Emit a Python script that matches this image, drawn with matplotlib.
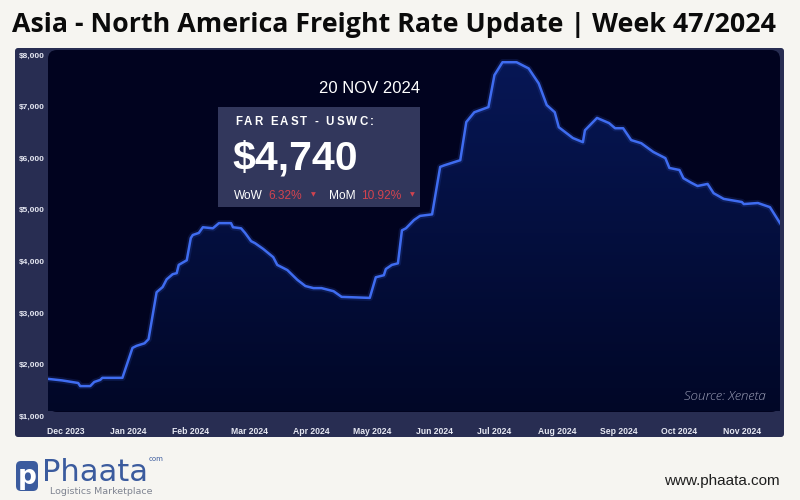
import numpy as np
import pandas as pd
import matplotlib
matplotlib.use("Agg")
import matplotlib.pyplot as plt
import matplotlib.dates as mdates
from matplotlib.patches import FancyBboxPatch, Rectangle
from matplotlib.colors import LinearSegmentedColormap
from matplotlib.ticker import FuncFormatter
from matplotlib.transforms import IdentityTransform

# Data (Far East - USWC, USD per FEU)
dates = ["2023-11-22", "2023-11-29", "2023-12-07", "2023-12-08", "2023-12-13",
         "2023-12-15", "2023-12-18", "2023-12-19", "2023-12-29", "2024-01-03",
         "2024-01-05", "2024-01-09", "2024-01-11", "2024-01-15", "2024-01-18",
         "2024-01-20", "2024-01-23", "2024-01-25", "2024-01-26", "2024-01-30",
         "2024-02-01", "2024-02-02", "2024-02-05", "2024-02-07", "2024-02-12",
         "2024-02-15", "2024-02-21", "2024-02-22", "2024-02-26", "2024-02-28",
         "2024-03-02", "2024-03-04", "2024-03-08", "2024-03-13", "2024-03-15",
         "2024-03-20", "2024-03-25", "2024-03-29", "2024-04-02", "2024-04-06",
         "2024-04-12", "2024-04-16", "2024-04-30", "2024-05-03", "2024-05-07",
         "2024-05-08", "2024-05-11", "2024-05-14", "2024-05-16", "2024-05-18",
         "2024-05-22", "2024-05-25", "2024-05-31", "2024-06-04", "2024-06-06",
         "2024-06-14", "2024-06-17", "2024-06-21", "2024-06-28", "2024-07-01",
         "2024-07-05", "2024-07-12", "2024-07-18", "2024-07-23", "2024-07-27",
         "2024-07-31", "2024-08-02", "2024-08-07", "2024-08-09", "2024-08-14",
         "2024-08-15", "2024-08-21", "2024-08-27", "2024-08-30", "2024-09-03",
         "2024-09-07", "2024-09-12", "2024-09-18", "2024-09-24", "2024-09-26",
         "2024-10-01", "2024-10-03", "2024-10-07", "2024-10-10", "2024-10-15",
         "2024-10-18", "2024-10-23", "2024-11-01", "2024-11-02", "2024-11-09",
         "2024-11-15", "2024-11-20"]
rates = [1720, 1690, 1640, 1580, 1580,
         1660, 1700, 1740, 1740, 2320,
         2360, 2410, 2490, 3400, 3500,
         3650, 3750, 3770, 3930, 4020,
         4450, 4510, 4550, 4660, 4640,
         4740, 4740, 4660, 4640, 4550,
         4390, 4350, 4240, 4080, 3930,
         3830, 3640, 3520, 3480, 3480,
         3420, 3310, 3290, 3690, 3730,
         3850, 3930, 3960, 4600, 4640,
         4800, 4880, 4910, 5830, 5860,
         5960, 6700, 6890, 6990, 7610,
         7860, 7860, 7740, 7450, 7030,
         6890, 6600, 6450, 6390, 6310,
         6540, 6780, 6680, 6580, 6580,
         6350, 6290, 6120, 6000, 5810,
         5770, 5610, 5520, 5460, 5500,
         5320, 5210, 5150, 5110, 5130,
         5050, 4740]
y_ticks = [1000, 2000, 3000, 4000, 5000, 6000, 7000, 8000]

title = "Asia - North America Freight Rate Update | Week 47/2024"
box_date = "20 NOV 2024"
box_route = "FAR EAST - USWC:"
box_value = "$4,740"
wow, mom = "6.32%", "10.92%"

W, H = 800, 500
BG = "#f6f5f1"
PANEL = "#282d52"
INNER = "#01031f"
LINE = "#3f6cf0"
RED = "#d2434f"
BRAND = "#3b5b9e"


def fx(px):
    return px / W


def fy(py):
    return 1 - py / H


fig = plt.figure(figsize=(8, 5), dpi=100)
fig.patch.set_facecolor(BG)

# panels (pixel coordinates)
outer = FancyBboxPatch((15, H - 437), 769, 389, boxstyle="round,pad=0,rounding_size=3",
                       transform=IdentityTransform(), fc=PANEL, ec="none", zorder=-3)
inner = FancyBboxPatch((48, H - 412), 732, 362, boxstyle="round,pad=0,rounding_size=9",
                       transform=IdentityTransform(), fc=INNER, ec="none", zorder=-2)
fig.patches.extend([outer, inner])

ax = fig.add_axes([fx(48), fy(416), 732 / W, (416 - 55) / H])
ax.set_facecolor("none")
for s in ax.spines.values():
    s.set_visible(False)

x = mdates.date2num(pd.to_datetime(dates))
ax.set_xlim(x[0], x[-1])
ax.set_ylim(1000, 8000)

# fill under curve with vertical gradient
ybot = ax.transData.inverted().transform((0, H - 412 + 0.5))[1]
fill = ax.fill_between(x, rates, ybot, facecolor="none", edgecolor="none")
grad = np.linspace(0, 1, 256).reshape(-1, 1)
cmap = LinearSegmentedColormap.from_list("g", ["#010727", "#071756"])
im = ax.imshow(grad, extent=[x[0], x[-1], ybot, 8000], origin="lower", aspect="auto",
               cmap=cmap, zorder=1)
im.set_clip_path(fill.get_paths()[0], transform=ax.transData)
ax.set_xlim(x[0], x[-1])
ax.set_ylim(1000, 8000)

ax.plot(x, rates, color=LINE, lw=4.5, alpha=0.15, zorder=2, solid_capstyle="round")
ax.plot(x, rates, color=LINE, lw=1.8, zorder=3, solid_joinstyle="round")

ax.set_yticks(y_ticks)
ax.yaxis.set_major_formatter(FuncFormatter(lambda v, p: "${:,.0f}".format(v)))
ax.xaxis.set_major_locator(mdates.MonthLocator())
ax.xaxis.set_major_formatter(mdates.DateFormatter("%b %Y"))
ax.tick_params(length=0, colors="#e6e8f2", labelsize=6.2)
ax.tick_params(axis="y", pad=2.5, labelsize=6)
ax.tick_params(axis="x", pad=8)
for lab in ax.get_xticklabels() + ax.get_yticklabels():
    lab.set_family("Liberation Sans")
    lab.set_fontweight("bold")

# title
fig.text(fx(12), fy(25), title, fontsize=19.3, fontweight="bold", family="Open Sans",
         color="#0b0b0b", va="center", ha="left")

# info box
box = Rectangle((218, H - 207), 202, 100, transform=IdentityTransform(),
                fc="#373c62", ec="none", alpha=0.92, zorder=5)
fig.patches.append(box)
fig.text(fx(420), fy(89), box_date, fontsize=12, family="Liberation Sans", color="white",
         ha="right", va="center", zorder=6)

renderer = fig.canvas.get_renderer()
cx = 235
for ch in box_route:
    if ch == " ":
        cx += 5
        continue
    t = fig.text(fx(cx), fy(122), ch, fontsize=8.3, fontweight="bold", family="Liberation Sans",
                 color="white", ha="left", va="center", zorder=6)
    cx += t.get_window_extent(renderer).width + 2.2

fig.text(fx(232), fy(158), box_value, fontsize=29.5, fontweight="bold", family="Liberation Sans",
         color="white", ha="left", va="center", zorder=6)

fig.text(fx(234), fy(196), "WoW", fontsize=8.6, family="Liberation Sans", color="white",
         ha="left", va="center", zorder=6)
fig.text(fx(268), fy(196), wow, fontsize=8.6, family="Liberation Sans", color=RED,
         ha="left", va="center", zorder=6)
fig.text(fx(313), fy(195), "▼", fontsize=4.5, family="DejaVu Sans", color=RED,
         ha="center", va="center", zorder=6)
fig.text(fx(329), fy(196), "MoM", fontsize=8.6, family="Liberation Sans", color="white",
         ha="left", va="center", zorder=6)
fig.text(fx(361), fy(196), mom, fontsize=8.6, family="Liberation Sans", color=RED,
         ha="left", va="center", zorder=6)
fig.text(fx(412), fy(195), "▼", fontsize=4.5, family="DejaVu Sans", color=RED,
         ha="center", va="center", zorder=6)

# source
fig.text(fx(766), fy(396), "Source: Xeneta", fontsize=9.6, style="italic", fontweight="light",
         family="Open Sans", color="#9a9db5", ha="right", va="center")

# footer logo
logo = FancyBboxPatch((16, H - 491), 22, 30, boxstyle="round,pad=0,rounding_size=5",
                      transform=IdentityTransform(), fc=BRAND, ec="none")
fig.patches.append(logo)
fig.text(fx(27), fy(477), "p", fontsize=19, fontweight="bold", family="DejaVu Sans",
         color="white", ha="center", va="center")
brand = fig.text(fx(42), fy(487), "Phaata", fontsize=22, family="DejaVu Sans", color=BRAND,
                 ha="left", va="bottom")
bb = brand.get_window_extent(renderer)
fig.text(fx(bb.x1 + 1), fy(459), "com", fontsize=5, family="DejaVu Sans", color=BRAND,
         ha="left", va="center")
fig.text(fx(50), fy(487), "Logistics Marketplace", fontsize=6.8, family="DejaVu Sans",
         color="#7f8491", ha="left", va="top")
fig.text(fx(780), fy(481), "www.phaata.com", fontsize=11, family="Liberation Sans",
         color="#1e1e1e", ha="right", va="center")

plt.savefig("out.png", dpi=100, facecolor=fig.get_facecolor())
